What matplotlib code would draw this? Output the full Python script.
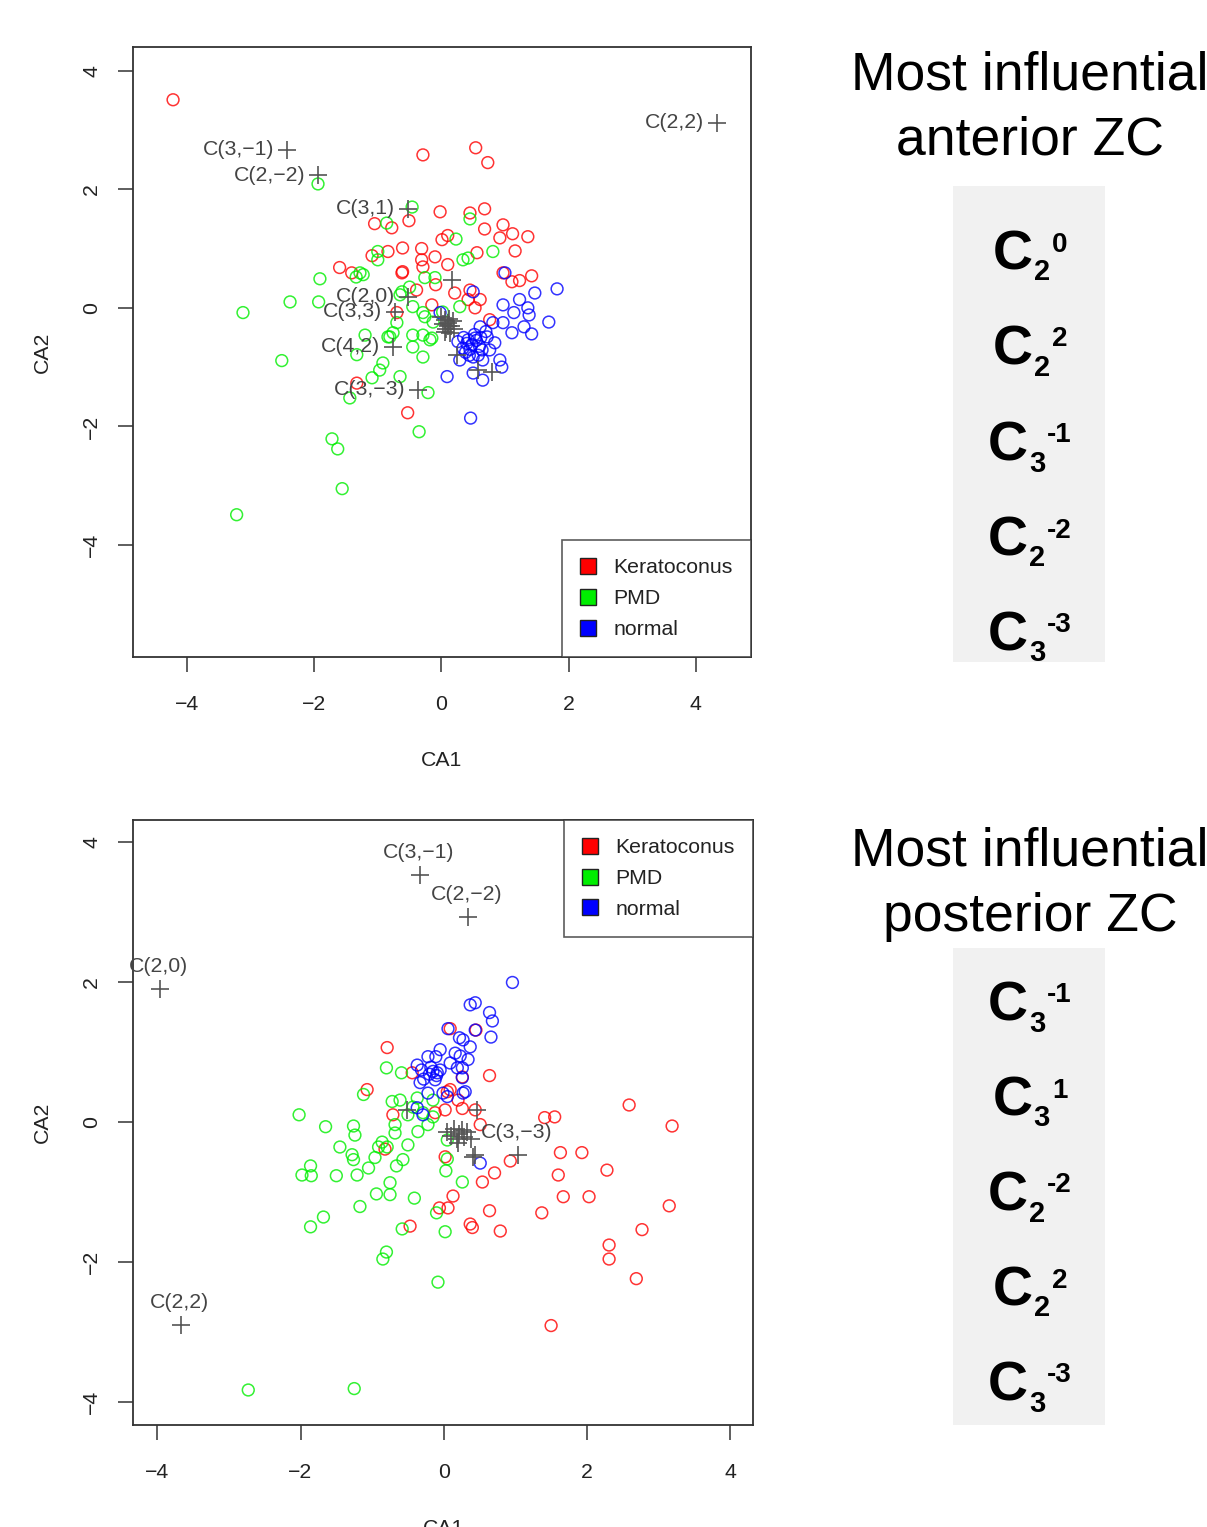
import matplotlib
matplotlib.use("Agg")
import matplotlib.pyplot as plt
from matplotlib.lines import Line2D
from matplotlib.patches import Rectangle

plt.rcParams['font.family'] = ['Liberation Sans', 'DejaVu Sans']

# ---------------- Top panel (anterior) data ----------------
top_red_x = [-4.22, -0.29, 0.54, 0.73, -0.02, 0.45, 0.68, 0.97, 1.12, 0.92, 1.36, 0.68, 0.10, 0.01,
             1.16, 0.56, -1.05, -0.78, -0.51, -0.61, -0.31, -0.31, -0.10, -1.09, -1.60, -1.41, -0.61,
             -0.39, -0.15, 0.10, -0.29, -0.62, -0.09, 0.21, 0.42, 0.61, 0.53, 0.76, -0.70, 0.97, 1.11,
             1.23, 1.42, -0.53, -1.33, 0.45, -0.84]
top_red_y = [3.51, 2.58, 2.70, 2.45, 1.62, 1.60, 1.67, 1.40, 1.25, 1.18, 1.20, 1.33, 1.22, 1.15,
             0.96, 0.93, 1.42, 1.35, 1.47, 1.01, 1.00, 0.81, 0.86, 0.88, 0.68, 0.59, 0.61,
             0.30, 0.05, 0.73, 0.69, 0.59, 0.39, 0.25, 0.14, 0.14, 0.00, -0.20, -0.08, 0.59, 0.44,
             0.46, 0.54, -1.77, -1.27, 0.30, 0.95]

top_green_x = [-1.94, -0.46, -0.86, -1.00, -1.00, -1.23, -1.34, -1.91, -2.38, -1.93, -3.12, -0.65,
               0.45, 0.23, 0.81, 0.34, 0.42, -0.26, -0.10, -0.45, 0.29, 0.02, -0.29, -2.51, -1.72,
               -1.63, -1.56, -3.22, -1.28, -0.26, -0.13, -0.29, -0.45, -0.15, -0.70, -0.76, -0.84,
               -1.20, -0.92, -0.97, -1.09, -0.65, -0.29, -0.45, -0.21, -0.35, -1.44, -1.33, -0.62,
               -0.50, -0.18, -0.81]
top_green_y = [2.09, 1.70, 1.43, 0.95, 0.81, 0.56, 0.52, 0.49, 0.10, 0.10, -0.08, 0.22,
               1.50, 1.16, 0.95, 0.81, 0.84, 0.51, 0.51, 0.02, 0.02, -0.07, -0.08, -0.89, -2.21,
               -2.38, -3.05, -3.49, 0.59, -0.15, -0.24, -0.46, -0.46, -0.51, -0.25, -0.42, -0.49,
               -0.46, -0.93, -1.05, -1.18, -1.16, -0.83, -0.66, -1.43, -2.09, -1.52, -0.79, 0.27,
               0.35, -0.54, -0.49]

top_blue_x = [0.50, 0.97, 1.23, 1.47, 1.82, 1.36, 1.38, 1.14, 1.69, 1.42, 1.30, 1.11, 0.97, 0.81,
              0.61, 0.53, 0.72, 0.84, 0.64, 0.76, 0.92, 0.65, 0.50, 0.34, 0.29, 0.42, 0.26, -0.02,
              0.95, 0.50, 0.65, 0.09, 0.46, 1.00, 0.40, 0.48, 0.55, 0.45, 0.38, 0.60, 0.52, 0.70,
              0.35, 0.62, 0.58, 0.44]
top_blue_y = [0.27, 0.05, 0.14, 0.25, 0.32, 0.00, -0.12, -0.08, -0.24, -0.44, -0.32, -0.42, -0.25,
              -0.25, -0.32, -0.51, -0.49, -0.59, -0.71, -0.71, -0.88, -0.88, -0.83, -0.68, -0.88,
              -0.54, -0.57, -0.08, -1.00, -1.10, -1.22, -1.16, -1.86, 0.59, -0.60, -0.62, -0.55,
              -0.70, -0.75, -0.65, -0.45, -0.40, -0.50, -0.50, -0.80, -0.80]

top_var_labels = ['C(3,\u22121)', 'C(2,\u22122)', 'C(2,2)', 'C(3,1)', 'C(2,0)', 'C(3,3)', 'C(4,2)', 'C(3,\u22123)']
top_var_x = [-2.43, -1.94, 4.33, -0.53, -0.53, -0.73, -0.76, -0.37]
top_var_y = [2.67, 2.24, 3.12, 1.67, 0.19, -0.07, -0.66, -1.38]
top_other_x = [0.05, 0.10, 0.15, 0.08, 0.12, 0.02, 0.18, 0.06, 0.14, 0.20, 0.10, 0.00, 0.17, 0.57, 0.79, 0.25]
top_other_y = [-0.20, -0.25, -0.30, -0.35, -0.18, -0.28, -0.22, -0.40, -0.42, -0.35, -0.30, -0.15, 0.47, -1.05, -1.08, -0.79]

# ---------------- Bottom panel (posterior) data ----------------
bot_red_x = [-0.79, 0.09, 0.45, 0.64, -0.44, -1.07, 0.09, 0.26, -0.71, 0.02, -0.12, -0.82, 0.13, 0.06,
             -0.06, -0.47, 0.02, 0.37, 0.40, 0.64, 0.79, 0.54, 0.71, 0.93, 1.37, 1.41, 1.55, 1.63,
             1.60, 1.67, 2.59, 3.19, 1.93, 2.28, 2.03, 3.15, 2.77, 2.31, 2.31, 2.69, 1.50, 0.44,
             0.51, 0.20, 0.05, 0.26]
bot_red_y = [1.06, 1.33, 1.31, 0.66, 0.70, 0.46, 0.46, 0.64, 0.10, 0.17, 0.13, -0.39, -1.06, -1.23,
             -1.23, -1.49, -0.50, -1.46, -1.51, -1.27, -1.56, -0.86, -0.73, -0.56, -1.30, 0.06, 0.07, -0.44,
             -0.76, -1.07, 0.24, -0.06, -0.44, -0.69, -1.07, -1.20, -1.54, -1.76, -1.96, -2.24, -2.91, 0.17,
             -0.04, 0.31, 0.43, 0.19]

bot_green_x = [-0.80, -0.59, -1.12, -2.02, -1.65, -1.26, -1.24, -1.45, -1.28, -1.26, -1.86, -1.98, -1.85,
               -1.50, -1.21, -1.05, -0.96, -0.86, -0.79, -0.91, -0.68, -0.68, -0.50, -0.57, -0.66, -0.75,
               -0.75, -0.94, -1.17, -1.68, -1.86, -0.41, -0.58, -0.80, -0.85, -0.08, 0.02, -0.10, 0.26,
               0.03, 0.05, -0.36, -0.22, -0.50, -0.43, -0.72, -0.61, -0.37, -0.15, -0.29, 0.05, -0.15,
               -2.73, -1.25]
bot_green_y = [0.77, 0.70, 0.39, 0.10, -0.07, -0.06, -0.19, -0.36, -0.47, -0.54, -0.63, -0.76, -0.77,
               -0.77, -0.76, -0.66, -0.51, -0.29, -0.36, -0.36, -0.16, -0.04, -0.33, -0.54, -0.63, -0.87,
               -1.04, -1.03, -1.21, -1.36, -1.50, -1.09, -1.53, -1.86, -1.96, -2.29, -1.57, -1.30, -0.86,
               -0.70, -0.53, -0.14, -0.04, 0.10, 0.21, 0.29, 0.31, 0.34, 0.31, 0.13, -0.26, 0.07,
               -3.83, -3.81]

bot_blue_x = [0.96, 0.37, 0.44, 0.64, 0.68, 0.66, 0.06, 0.44, 0.27, 0.37, 0.34, 0.26, 0.09, -0.05,
              -0.22, -0.37, -0.33, -0.09, 0.26, 0.30, -0.01, -0.22, 0.51, 0.27, 0.05, 0.22, 0.16,
              -0.11, 0.23, -0.31, -0.28, 0.19, -0.15, -0.10, -0.20, -0.05, -0.12, -0.18, -0.37, -0.29]
bot_blue_y = [1.99, 1.67, 1.70, 1.56, 1.44, 1.21, 1.33, 1.31, 1.17, 1.07, 0.89, 0.77, 0.84, 1.03,
              0.93, 0.81, 0.56, 0.70, 0.63, 0.43, 0.41, 0.41, -0.59, 0.41, 0.36, 1.20, 0.98,
              0.93, 0.94, 0.74, 0.61, 0.77, 0.72, 0.66, 0.68, 0.74, 0.60, 0.78, 0.20, 0.10]

bot_var_labels = ['C(3,\u22121)', 'C(2,\u22122)', 'C(2,0)', 'C(2,2)', 'C(3,\u22123)']
bot_var_x = [-0.33, 0.34, -3.96, -3.67, 1.04]
bot_var_y = [3.53, 2.93, 1.90, -2.90, -0.47]
bot_other_x = [0.15, 0.22, 0.28, 0.18, 0.25, 0.10, 0.32, 0.20, 0.05, 0.38, 0.47, 0.44, -0.51, 0.41]
bot_other_y = [-0.10, -0.18, -0.22, -0.25, -0.12, -0.20, -0.15, -0.30, -0.15, -0.25, 0.17, -0.47, 0.17, -0.50]

legend_labels = ['Keratoconus', 'PMD', 'normal']
group_colors = ['#ff0000', '#00ee00', '#0000ff']

panel_titles = ['Most influential\nanterior ZC', 'Most influential\nposterior ZC']
top_zc = [('2', '0'), ('2', '2'), ('3', '-1'), ('2', '-2'), ('3', '-3')]
bot_zc = [('3', '-1'), ('3', '1'), ('2', '-2'), ('2', '2'), ('3', '-3')]

W, H = 1207, 1527
fig = plt.figure(figsize=(W / 100, H / 100), dpi=100)

cross_color = '#555555'
FS = 15.3


def style_axes(ax, xlim, ylim, leg_loc):
    ax.set_xlim(*xlim)
    ax.set_ylim(*ylim)
    ax.set_xticks([-4, -2, 0, 2, 4])
    ax.set_yticks([-4, -2, 0, 2, 4])
    ax.set_xticklabels(['\u22124', '\u22122', '0', '2', '4'])
    ax.set_yticklabels(['\u22124', '\u22122', '0', '2', '4'], rotation=90, va='center')
    ax.tick_params(axis='both', direction='out', length=11, width=1.1, color='#333333',
                   labelsize=FS, labelcolor='#222222')
    ax.tick_params(axis='x', pad=16)
    ax.tick_params(axis='y', pad=12)
    for s in ax.spines.values():
        s.set_linewidth(1.3)
        s.set_color('#333333')
    ax.set_xlabel('CA1', fontsize=FS, color='#222222', va='center')
    ax.set_ylabel('CA2', fontsize=FS, color='#222222', va='center')
    hpx = ax.get_position().height * H
    wpx = ax.get_position().width * W
    ax.xaxis.set_label_coords(0.5, -103 / hpx)
    ax.yaxis.set_label_coords(-91 / wpx, 0.5)
    handles = [Line2D([], [], linestyle='none', marker='s', markersize=11,
                      markerfacecolor=c, markeredgecolor='#222222', markeredgewidth=1.0)
               for c in group_colors]
    leg = ax.legend(handles, legend_labels, loc=leg_loc, borderaxespad=0, fancybox=False,
                    frameon=True, edgecolor='#333333', fontsize=FS, handlelength=0.8,
                    handletextpad=0.78, labelspacing=0.56, borderpad=0.85)
    leg.get_frame().set_linewidth(1.2)
    for t in leg.get_texts():
        t.set_color('#222222')


def scatter_groups(ax, xs, ys):
    for x, y, c in zip(xs, ys, group_colors):
        ax.scatter(x, y, s=72, facecolors='none', edgecolors=c, linewidths=1.1, alpha=0.8, zorder=3)


# ---- Top axes
ax1 = fig.add_axes([133 / W, 1 - 657 / H, (751 - 133) / W, (657 - 47) / H])
scatter_groups(ax1, [top_red_x, top_green_x, top_blue_x], [top_red_y, top_green_y, top_blue_y])
ax1.scatter(top_var_x, top_var_y, marker='+', s=150, color=cross_color, linewidths=1.2, zorder=4)
ax1.scatter(top_other_x, top_other_y, marker='+', s=150, color=cross_color, linewidths=1.2, zorder=4)
for lab, x, y in zip(top_var_labels, top_var_x, top_var_y):
    ax1.annotate(lab, (x, y), xytext=(-9, 0), textcoords='offset points', ha='right', va='center',
                 fontsize=FS, color='#444444', zorder=5)
style_axes(ax1, (-4.85, 4.87), (-5.89, 4.40), 'lower right')

# ---- Bottom axes
ax2 = fig.add_axes([133 / W, 1 - 1425 / H, (753 - 133) / W, (1425 - 820) / H])
scatter_groups(ax2, [bot_red_x, bot_green_x, bot_blue_x], [bot_red_y, bot_green_y, bot_blue_y])
ax2.scatter(bot_var_x, bot_var_y, marker='+', s=150, color=cross_color, linewidths=1.2, zorder=4)
ax2.scatter(bot_other_x, bot_other_y, marker='+', s=150, color=cross_color, linewidths=1.2, zorder=4)
for lab, x, y in zip(bot_var_labels, bot_var_x, bot_var_y):
    ax2.annotate(lab, (x, y), xytext=(-1, 16), textcoords='offset points', ha='center', va='center',
                 fontsize=FS, color='#444444', zorder=5)
style_axes(ax2, (-4.34, 4.32), (-4.33, 4.31), 'upper right')

# ---- Right-side text panels
for title, yc in zip(panel_titles, [108, 884]):
    fig.text(1030 / W, 1 - yc / H, title, ha='center', va='center', fontsize=38.5,
             linespacing=1.4, color='black')

for (y0, y1) in [(186, 662), (948, 1425)]:
    fig.patches.append(Rectangle((953 / W, 1 - y1 / H), (1105 - 953) / W, (y1 - y0) / H,
                                 transform=fig.transFigure, facecolor='#f1f1f1', edgecolor='none',
                                 zorder=0))

renderer = fig.canvas.get_renderer()


def draw_zc(sub, sup, yc):
    # yc: vertical centre of the big C (pixels from top)
    base = yc + 20.5  # baseline of C
    tC = fig.text(0, 1 - base / H, 'C', fontsize=40, fontweight='bold', ha='left', va='baseline')
    tS = fig.text(0, 1 - (base + 11) / H, sub, fontsize=21, fontweight='bold', ha='left', va='baseline')
    tP = fig.text(0, 1 - (base - 18) / H, sup, fontsize=20, fontweight='bold', ha='left', va='baseline')
    wC = tC.get_window_extent(renderer).width
    wS = tS.get_window_extent(renderer).width
    wP = tP.get_window_extent(renderer).width
    gap1, gap2 = 1.0, 2.0
    total = wC + gap1 + wS + gap2 + wP
    x0 = 1030 - total / 2
    tC.set_x(x0 / W)
    tS.set_x((x0 + wC + gap1) / W)
    tP.set_x((x0 + wC + gap1 + wS + gap2) / W)


for (sub, sup), yc in zip(top_zc, [249, 344, 440, 535, 630]):
    draw_zc(sub, sup, yc)
for (sub, sup), yc in zip(bot_zc, [1000, 1095, 1190, 1285, 1380]):
    draw_zc(sub, sup, yc)

fig.savefig('out.png', dpi=100, facecolor='white')
